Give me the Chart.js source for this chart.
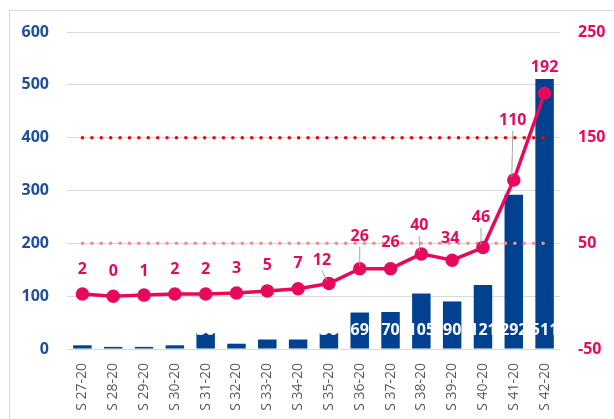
<!DOCTYPE html>
<html>
<head>
<meta charset="utf-8">
<script src="https://cdn.jsdelivr.net/npm/chart.js@4/dist/chart.umd.min.js"></script>
<style>
  html, body { margin: 0; padding: 0; background: #fff; }
  #wrap { position: relative; width: 614px; height: 419px; overflow: hidden; }
  #frame { position: absolute; left: 9px; top: 10px; width: 640px; height: 440px; border: 1px solid #d9d9d9; box-sizing: border-box; }
  #chart { position: absolute; left: 0; top: 0; }
</style>
</head>
<body>
<div id="wrap">
  <div id="frame"></div>
  <canvas id="chart" width="614" height="419"></canvas>
</div>
<script>
// Weekly figures: bars on the left axis, curve on the right axis
const weeks = ['S 27-20', 'S 28-20', 'S 29-20', 'S 30-20', 'S 31-20', 'S 32-20', 'S 33-20', 'S 34-20',
  'S 35-20', 'S 36-20', 'S 37-20', 'S 38-20', 'S 39-20', 'S 40-20', 'S 41-20', 'S 42-20'];
const barValues = [7, 4, 4, 7, 30, 10, 18, 18, 30, 69, 70, 105, 90, 121, 292, 511];
const lineValues = [2, 0, 1, 2, 2, 3, 5, 7, 12, 26, 26, 40, 34, 46, 110, 192];
const leftTicks = [0, 100, 200, 300, 400, 500, 600];
const rightTicks = [-50, 50, 150, 250];
const upperThreshold = 150;
const lowerThreshold = 50;

// label placement for the curve values (pixels above the point, sideways shift, leader line)
const labelLift = [25, 25, 24, 25, 25, 25, 25, 25, 23, 32, 26, 28, 22, 30, 59, 26];
const labelShift = [0, 0, 0, 0, 0, 0, 0, 0, -7, 0, 0, -2, -2, -2, -1, 0];
const labelLeader = [false, false, false, false, false, false, false, false, true, true, false, true, false, true, true, false];

const BLUE = '#00428f';
const CRIMSON = '#e6095c';
const FONT = "'Open Sans', 'Liberation Sans', sans-serif";

const valueLabels = {
  id: 'valueLabels',
  afterDatasetsDraw(chart) {
    const ctx = chart.ctx;
    const zeroY = chart.scales.y.getPixelForValue(0);
    ctx.save();
    ctx.textAlign = 'center';
    ctx.textBaseline = 'middle';

    // white values sitting low inside the bars
    const barMeta = chart.getDatasetMeta(0);
    ctx.font = 'bold 16px ' + FONT;
    ctx.fillStyle = '#ffffff';
    barMeta.data.forEach((bar, i) => {
      ctx.fillText(String(barValues[i]), bar.x, zeroY - 19);
    });

    // values above the curve points
    const lineMeta = chart.getDatasetMeta(3);
    lineMeta.data.forEach((pt, i) => {
      const lx = pt.x + labelShift[i];
      const ly = pt.y - labelLift[i];
      if (labelLeader[i]) {
        ctx.strokeStyle = '#a6a6a6';
        ctx.lineWidth = 1;
        ctx.beginPath();
        ctx.moveTo(lx, ly + 10);
        ctx.lineTo(pt.x - (labelShift[i] ? 2 : 0), pt.y - 3);
        ctx.stroke();
      }
      ctx.fillStyle = CRIMSON;
      ctx.font = 'bold 16px ' + FONT;
      ctx.fillText(String(lineValues[i]), lx, ly);
    });
    ctx.restore();
  }
};

const dotted = (value, color) => ({
  type: 'line',
  yAxisID: 'y1',
  data: weeks.map(() => value),
  borderColor: color,
  borderWidth: 3.5,
  borderDash: [0.1, 9.3],
  borderCapStyle: 'round',
  pointRadius: 0,
  fill: false,
  order: 2
});

new Chart(document.getElementById('chart'), {
  data: {
    labels: weeks,
    datasets: [
      {
        type: 'bar',
        yAxisID: 'y',
        data: barValues,
        backgroundColor: BLUE,
        barPercentage: 0.6,
        categoryPercentage: 1,
        order: 3
      },
      dotted(upperThreshold, '#ff0000'),
      dotted(lowerThreshold, '#fa8a8a'),
      {
        type: 'line',
        yAxisID: 'y1',
        data: lineValues,
        borderColor: CRIMSON,
        backgroundColor: CRIMSON,
        borderWidth: 3.5,
        pointRadius: 5,
        pointHoverRadius: 5,
        tension: 0,
        order: 1
      }
    ]
  },
  options: {
    responsive: false,
    animation: false,
    layout: { padding: { left: 20, right: 0, top: 32, bottom: 6 } },
    plugins: {
      legend: { display: false },
      tooltip: { enabled: false }
    },
    scales: {
      x: {
        grid: { display: false, drawTicks: false },
        border: { display: false },
        afterFit: (axis) => { axis.height = 64; },
        ticks: {
          color: '#595959',
          font: { family: FONT, size: 14 },
          maxRotation: 90,
          minRotation: 90,
          padding: 14
        }
      },
      y: {
        position: 'left',
        min: 0,
        max: 600,
        afterBuildTicks: (axis) => { axis.ticks = leftTicks.map(v => ({ value: v })); },
        afterFit: (axis) => { axis.width = 47; },
        grid: { color: '#d9d9d9', lineWidth: 1, drawTicks: false },
        border: { display: false },
        ticks: {
          color: '#1f4e9a',
          font: { family: FONT, size: 16, weight: 'bold' },
          padding: 18
        }
      },
      y1: {
        position: 'right',
        min: -50,
        max: 250,
        afterBuildTicks: (axis) => { axis.ticks = rightTicks.map(v => ({ value: v })); },
        afterFit: (axis) => { axis.width = 54; },
        grid: { drawOnChartArea: false, drawTicks: false },
        border: { display: false },
        ticks: {
          color: CRIMSON,
          font: { family: FONT, size: 16, weight: 'bold' },
          padding: 18
        }
      }
    }
  },
  plugins: [valueLabels]
});
</script>
</body>
</html>
